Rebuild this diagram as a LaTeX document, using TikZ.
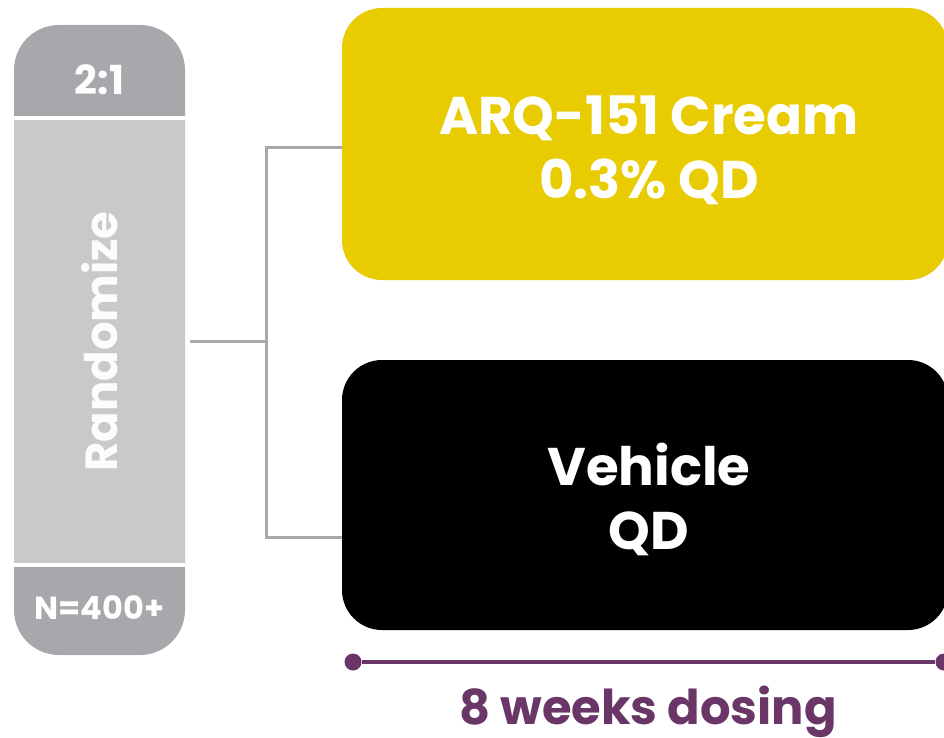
\documentclass[tikz,border=0pt]{standalone}
\usepackage{fontspec}
\setmainfont{Poppins}
\usepackage{tikz}
\usetikzlibrary{positioning}

\definecolor{capgray}{RGB}{166,168,171}
\definecolor{midgray}{RGB}{200,201,203}
\definecolor{armyellow}{RGB}{232,203,0}
\definecolor{dosepurple}{RGB}{106,53,103}

\begin{document}
\begin{tikzpicture}[
		x=1pt, y=-1pt,
		every node/.style={inner sep=0pt, font=\bfseries},
		arm/.style={rounded corners=40pt, minimum width=606pt, align=center, text=white, font=\bfseries\fontsize{53}{64}\selectfont},
		link/.style={draw=capgray, line width=3pt},
		dot/.style={circle, fill=dosepurple, minimum size=17pt}
	]
  \clip (0,0) rectangle (944,738);
  % randomize column
  \fill[capgray, rounded corners=45pt] (14,25) rectangle (185,655);
  \node (mid) [fill=midgray, minimum width=171pt, minimum height=443pt] at (99.5,341.5) {};
  \fill[white] (14,116) rectangle (185,120);
  \fill[white] (14,563) rectangle (185,567);
  \node (ratio) [text=white, font=\bfseries\fontsize{40}{46}\selectfont] at (99.5,80) {2:1};
  \node (rand) [rotate=90, text=white!94!midgray, font=\bfseries\fontsize{45}{54}\selectfont] at (mid) {Randomize};
  \node (total) [text=white, font=\bfseries\fontsize{32}{38}\selectfont] at (99.5,608) {N=400+};
  % treatment arms
  \node (arq) [arm, fill=armyellow, minimum height=272pt] at (645,144) {};
  \node (arq_label) [arm] at (649,150) {ARQ-151 Cream\\0.3\% QD};
  \node (veh) [arm, fill=black, minimum height=270pt] at (645,495) {};
  \node (veh_label) [arm] at (649,499) {Vehicle\\QD};
  \coordinate (split) at (266,341.5);
  \draw[link] ([xshift=5pt]mid.east) -- (split);
  \draw[link] (split) |- ([yshift=-4pt]arq.west);
  \draw[link] (split) |- ([yshift=-42pt]veh.west);
  % dosing period
  \node (t0) [dot] at (353,662) {};
  \node (t1) [dot] at (944,662) {};
  \draw[dosepurple, line width=4.5pt] (t0) -- (t1);
  \node (dosing) [text=dosepurple, font=\bfseries\fontsize{48}{58}\selectfont] at (648,712) {8 weeks dosing};
\end{tikzpicture}
\end{document}
